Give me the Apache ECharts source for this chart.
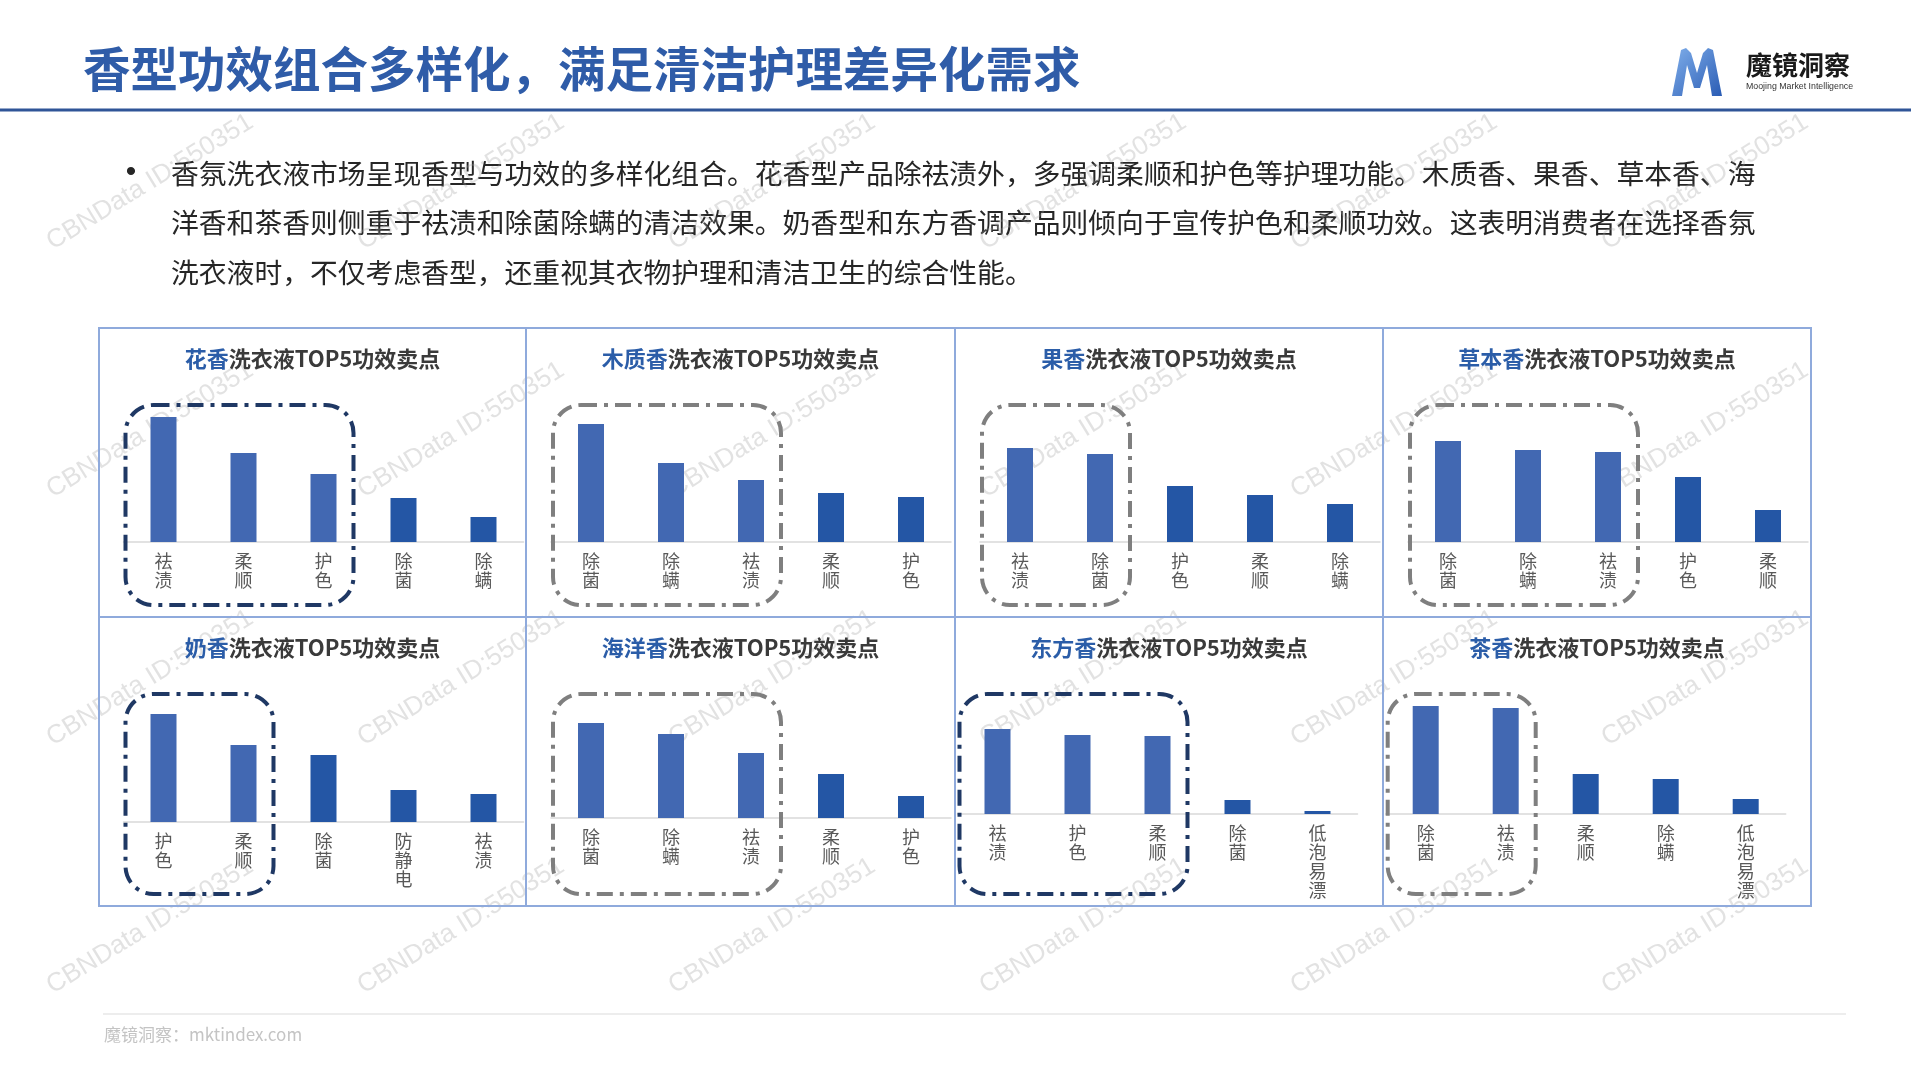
<!DOCTYPE html>
<html>
<head>
<meta charset="utf-8">
<title>香型功效组合多样化，满足清洁护理差异化需求</title>
<script src="https://cdn.jsdelivr.net/npm/echarts@6/dist/echarts.min.js"></script>
<style>
html, body { margin: 0; padding: 0; background: #fff; }
#main { width: 1911px; height: 1080px; }
</style>
</head>
<body>
<div id="main"></div>
<script>
// 香型名称
const scentNames = ['花香', '木质香', '果香', '草本香', '奶香', '海洋香', '东方香', '茶香'];
// 每个香型的TOP5功效
const featureCats = [
  ['祛渍', '柔顺', '护色', '除菌', '除螨'],
  ['除菌', '除螨', '祛渍', '柔顺', '护色'],
  ['祛渍', '除菌', '护色', '柔顺', '除螨'],
  ['除菌', '除螨', '祛渍', '护色', '柔顺'],
  ['护色', '柔顺', '除菌', '防静电', '祛渍'],
  ['除菌', '除螨', '祛渍', '柔顺', '护色'],
  ['祛渍', '护色', '柔顺', '除菌', '低泡易漂'],
  ['除菌', '祛渍', '柔顺', '除螨', '低泡易漂']
];
// 功效提及量（读图估算）
const featureValues = [
  [125, 89, 68, 44, 25],
  [118, 79, 62, 49, 45],
  [94, 88, 56, 47, 38],
  [101, 92, 90, 65, 32],
  [108, 77, 67, 32, 28],
  [95, 84, 65, 44, 22],
  [85, 79, 78, 14, 3],
  [108, 106, 40, 35, 15]
];
// 框选的前几项
const highlightCount = [3, 3, 2, 3, 2, 3, 3, 2];
const highlightDark = [true, false, false, false, true, false, true, false];

const headline = '香型功效组合多样化，满足清洁护理差异化需求';
const summaryLines = [
  '香氛洗衣液市场呈现香型与功效的多样化组合。花香型产品除祛渍外，多强调柔顺和护色等护理功能。木质香、果香、草本香、海',
  '洋香和茶香则侧重于祛渍和除菌除螨的清洁效果。奶香型和东方香调产品则倾向于宣传护色和柔顺功效。这表明消费者在选择香氛',
  '洗衣液时，不仅考虑香型，还重视其衣物护理和清洁卫生的综合性能。'
];

// layout
const CJK = '"Noto Sans CJK SC", "Noto Sans", sans-serif';
const gridLefts = [123.5, 551, 980, 1408, 123.5, 551, 957.5, 1385.7];
const axisYs = [542, 542, 542, 542, 822, 818, 814, 814];
const rowTops = [328, 617];
const colEdges = [99, 526, 955, 1383, 1811];
const plotH = 140;
const lightBar = '#4268B2';
const darkBar = '#2456A5';
const borderColor = '#8FAADC';

const chart = echarts.init(document.getElementById('main'));

const grids = [], xAxes = [], yAxes = [], series = [];
scentNames.forEach((name, i) => {
  grids.push({ left: gridLefts[i], top: axisYs[i] - plotH, width: 400, height: plotH });
  xAxes.push({
    type: 'category',
    gridIndex: i,
    data: featureCats[i],
    axisLine: { lineStyle: { color: '#D9D9D9', width: 1.5 } },
    axisTick: { show: false },
    axisLabel: {
      interval: 0,
      margin: 10,
      fontSize: 18,
      lineHeight: 19,
      color: '#595959',
      fontFamily: CJK,
      formatter: v => v.split('').join('\n')
    }
  });
  yAxes.push({ type: 'value', gridIndex: i, min: 0, max: plotH, show: false });
  series.push({
    type: 'bar',
    xAxisIndex: i,
    yAxisIndex: i,
    barWidth: 26,
    silent: true,
    data: featureValues[i].map((v, j) => ({
      value: v,
      itemStyle: { color: j < highlightCount[i] ? lightBar : darkBar }
    }))
  });
});

chart.setOption({
  animation: false,
  grid: grids,
  xAxis: xAxes,
  yAxis: yAxes,
  series: series
});

const g = [];

// watermark
for (let r = 0; r < 4; r++) {
  for (let c = 0; c < 6; c++) {
    g.push({
      type: 'text', z: 1, silent: true,
      x: 150 + c * 311, y: 182 + r * 248,
      rotation: 0.55,
      style: {
        text: 'CBNData ID:550351',
        font: '26px "Liberation Sans", Arial, sans-serif',
        fill: 'rgba(160,160,160,0.3)',
        align: 'center', verticalAlign: 'middle'
      }
    });
  }
}

// header
g.push({
  type: 'text', x: 83, y: 69,
  style: { text: headline, font: 'bold 47.5px ' + CJK, fill: '#2F5CA8', verticalAlign: 'middle' }
});
g.push({ type: 'line', shape: { x1: 0, y1: 110, x2: 1911, y2: 110 }, style: { stroke: '#2F5597', lineWidth: 3 } });

// logo
g.push({
  type: 'polygon', x: 1672, y: 48,
  shape: {
    points: [[0, 48], [9, 2], [14, 0], [19, 5], [25, 25], [31, 5], [36, 0], [41, 2], [50, 48],
      [40, 48], [35, 17], [28, 40], [22, 40], [15, 17], [10, 48]]
  },
  style: {
    fill: { type: 'linear', x: 0, y: 0, x2: 1, y2: 1, colorStops: [{ offset: 0, color: '#7FAEEA' }, { offset: 1, color: '#2A5CB4' }] }
  }
});
g.push({ type: 'text', x: 1746, y: 65, style: { text: '魔镜洞察', font: 'bold 26px ' + CJK, fill: '#1A1A1A', verticalAlign: 'middle' } });
g.push({ type: 'text', x: 1746, y: 87, style: { text: 'Moojing Market Intelligence', font: '8.8px "Liberation Sans", Arial, sans-serif', fill: '#333', verticalAlign: 'middle' } });

// summary paragraph
g.push({ type: 'text', x: 131, y: 173, style: { text: '•', font: '30px "Liberation Sans", Arial, sans-serif', fill: '#262626', align: 'center', verticalAlign: 'middle' } });
summaryLines.forEach((line, k) => {
  g.push({
    type: 'text', x: 171, y: 173 + k * 49.5,
    style: { text: line, font: '27.8px ' + CJK, fill: '#262626', verticalAlign: 'middle' }
  });
});

// panel borders
g.push({
  type: 'rect', z: 5,
  shape: { x: colEdges[0], y: rowTops[0], width: colEdges[4] - colEdges[0], height: 906 - rowTops[0] },
  style: { fill: 'none', stroke: borderColor, lineWidth: 2 }
});
[1, 2, 3].forEach(k => {
  g.push({ type: 'line', z: 5, shape: { x1: colEdges[k], y1: rowTops[0], x2: colEdges[k], y2: 906 }, style: { stroke: borderColor, lineWidth: 2 } });
});
g.push({ type: 'line', z: 5, shape: { x1: colEdges[0], y1: rowTops[1], x2: colEdges[4], y2: rowTops[1] }, style: { stroke: borderColor, lineWidth: 2 } });

// panel titles and highlight boxes
scentNames.forEach((name, i) => {
  const row = i < 4 ? 0 : 1;
  const col = i % 4;
  const cx = (colEdges[col] + colEdges[col + 1]) / 2;
  g.push({
    type: 'text', x: cx, y: rowTops[row] + 30.5, z: 5,
    style: {
      text: '{b|' + name + '}{d|洗衣液TOP5功效卖点}',
      align: 'center', verticalAlign: 'middle',
      rich: {
        b: { fontSize: 22, fontWeight: 'bold', fontFamily: CJK, fill: '#2B5DA8' },
        d: { fontSize: 22, fontWeight: 'bold', fontFamily: CJK, fill: '#3A3A3A' }
      }
    }
  });
  const x0 = chart.convertToPixel({ xAxisIndex: i }, 0) - 38;
  const x1 = chart.convertToPixel({ xAxisIndex: i }, highlightCount[i] - 1) + 30;
  const y0 = rowTops[row] + 77;
  const y1 = rowTops[row] + 277;
  g.push({
    type: 'rect', z: 6, silent: true,
    shape: { x: x0, y: y0, width: x1 - x0, height: y1 - y0, r: 28 },
    style: {
      fill: 'none',
      stroke: highlightDark[i] ? '#1F3864' : '#7F7F7F',
      lineWidth: 4,
      lineDash: [16, 7, 4, 7]
    }
  });
});

// footer
g.push({ type: 'line', shape: { x1: 103, y1: 1014, x2: 1846, y2: 1014 }, style: { stroke: '#EDEDED', lineWidth: 2 } });
g.push({ type: 'text', x: 104, y: 1035, style: { text: '魔镜洞察：mktindex.com', font: '17px ' + CJK, fill: '#C4C4C4', verticalAlign: 'middle' } });

chart.setOption({ graphic: { elements: g } });
</script>
</body>
</html>
